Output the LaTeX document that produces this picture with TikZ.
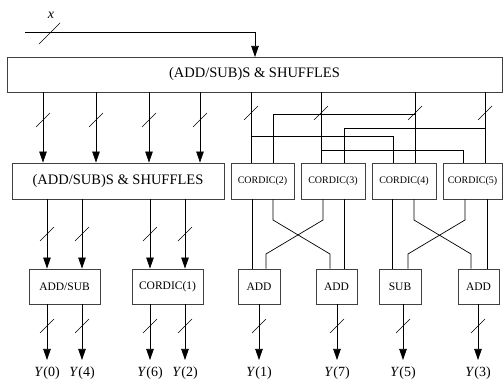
\documentclass[tikz,border=0pt]{standalone}
\usepackage{fontspec}
\setmainfont{Liberation Serif}
\usetikzlibrary{arrows.meta}

\begin{document}
\begin{tikzpicture}[x=1pt, y=-1pt, >={Triangle[length=11pt,width=7.5pt]},
  wire/.style={line width=0.7pt},
  unit/.style={draw=black!75, line width=0.9pt, minimum height=35pt, inner sep=0pt},
  bigtext/.style={font=\fontsize{14.5}{16}\selectfont},
  midtext/.style={font=\fontsize{11.5}{13}\selectfont},
  smalltext/.style={font=\fontsize{10}{12}\selectfont},
  outlabel/.style={font=\fontsize{14}{16}\selectfont, anchor=north, inner sep=1pt}]
  \useasboundingbox (0,0) rectangle (504,390);

  % blocks
  \node[unit, bigtext, minimum width=495pt] (top) at (254.5,74.5) {(ADD/SUB)S \& SHUFFLES};
  \node[unit, bigtext, minimum width=212pt, minimum height=36pt] (mid) at (118,181) {(ADD/SUB)S \& SHUFFLES};
  \node[unit, smalltext, minimum width=63pt, minimum height=36pt] (c2) at (262.5,181) {CORDIC(2)};
  \node[unit, smalltext, minimum width=64pt, minimum height=36pt] (c3) at (333,181) {CORDIC(3)};
  \node[unit, smalltext, minimum width=64pt, minimum height=36pt] (c4) at (404,181) {CORDIC(4)};
  \node[unit, smalltext, minimum width=59pt, minimum height=36pt] (c5) at (472.5,181) {CORDIC(5)};
  \node[unit, midtext, minimum width=71pt] (addsub) at (64.5,286.5) {ADD/SUB};
  \node[unit, midtext, minimum width=71pt] (cord1) at (167.5,286.5) {CORDIC(1)};
  \node[unit, midtext, minimum width=42pt] (add1) at (259,286.5) {ADD};
  \node[unit, midtext, minimum width=41pt] (add2) at (336.5,286.5) {ADD};
  \node[unit, midtext, minimum width=42pt] (sub) at (400,286.5) {SUB};
  \node[unit, midtext, minimum width=41pt] (add3) at (478.5,286.5) {ADD};

  % input
  \coordinate (xin) at (25,32);
  \coordinate (t0) at (255,57);
  \node[bigtext, font=\fontsize{14}{16}\selectfont\itshape] (xlab) at (51,15) {x};
  \draw[wire,->] (xin) -| (t0);
  \draw[wire] (39,44) -- (60,23);

  % top block to left half
  \foreach \n/\x in {1/43,2/96,3/149,4/200}{
    \coordinate (t\n) at (\x,92);
    \draw[wire,->] (t\n) -- (t\n |- mid.north);
    \draw[wire] (\x-7,127) -- (\x+7,113);
  }

  % top block to cordics
  \foreach \n/\x in {5/251,6/321,7/415,8/485}{
    \coordinate (t\n) at (\x,92);
    \draw[wire] (\x-7,120) -- (\x+7,106);
  }
  \draw[wire] (t5) -- (t5 |- c2.north);
  \draw[wire] (t6) -- (t6 |- c3.north);
  \draw[wire] (t7) -- (t7 |- c4.north);
  \draw[wire] (t8) -- (t8 |- c5.north);
  \draw[wire] (251,136) -| (c4.north -| 393,0);
  \draw[wire] (321,150) -| (c5.north -| 463,0);
  \draw[wire] (415,114) -| (c2.north -| 273,0);
  \draw[wire] (485,128) -| (c3.north -| 344,0);

  % cordics to adders
  \draw[wire] (c2.south -| 252,0) -- (add1.north -| 252,0);
  \draw[wire] (c3.south -| 323,0) -- (323,220) -- (266,254) -- (add1.north -| 266,0);
  \draw[wire] (c2.south -| 273,0) -- (273,220) -- (330,254) -- (add2.north -| 330,0);
  \draw[wire] (c3.south -| 344,0) -- (add2.north -| 344,0);
  \draw[wire] (c4.south -| 392,0) -- (sub.north -| 392,0);
  \draw[wire] (c5.south -| 465,0) -- (465,220) -- (408,254) -- (sub.north -| 408,0);
  \draw[wire] (c4.south -| 414,0) -- (414,220) -- (471,254) -- (add3.north -| 471,0);
  \draw[wire] (c5.south -| 487,0) -- (add3.north -| 487,0);

  % left half
  \foreach \b/\x in {addsub/47,addsub/82,cord1/150,cord1/185}{
    \draw[wire,->] (mid.south -| \x,0) -- (\b.north -| \x,0);
    \draw[wire] (\x-7,241) -- (\x+7,227);
  }

  % outputs
  \foreach \b/\x/\k in {addsub/47/0,addsub/82/4,cord1/150/6,cord1/185/2,add1/259/1,add2/337/7,sub/403/5,add3/478/3}{
    \node[outlabel] (y\k) at (\x,366) {\textit{Y}(\k)};
    \draw[wire,->, shorten >=6pt] (\b.south -| \x,0) -- (y\k.north);
    \draw[wire] (\x-7,333) -- (\x+7,319);
  }
\end{tikzpicture}
\end{document}
